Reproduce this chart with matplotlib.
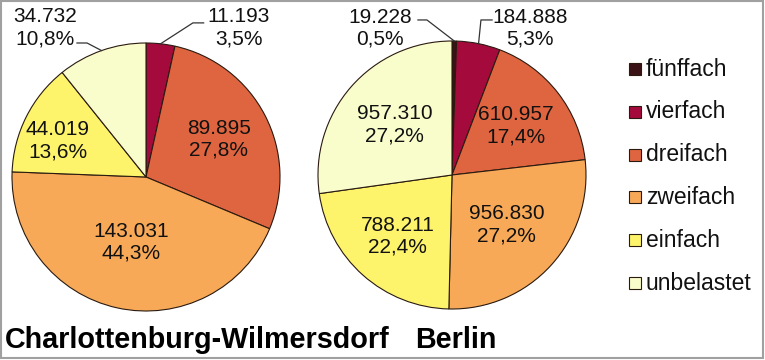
import matplotlib.pyplot as plt
from matplotlib.patches import Rectangle
import numpy as np

plt.rcParams['font.family'] = ['Liberation Sans', 'DejaVu Sans']

# data
categories = ['fünffach', 'vierfach', 'dreifach', 'zweifach', 'einfach', 'unbelastet']
colors = ['#3b1316', '#a50a3c', '#de6540', '#f8a958', '#fdf46c', '#f9fdcc']
cw_values = [0, 11193, 89895, 143031, 44019, 34732]
berlin_values = [19228, 184888, 610957, 956830, 788211, 957310]
titles = ['Charlottenburg-Wilmersdorf', 'Berlin']

W, H = 765, 360
R = 134.0
edge = '#2a1a10'


def de_num(v):
    return f'{v:,.0f}'.replace(',', '.')


def de_pct(p):
    return f'{p:.1f}'.replace('.', ',') + '%'


fig = plt.figure(figsize=(W / 100, H / 100), dpi=100)

# overlay in pixel coordinates for frame, legend and titles
ov = fig.add_axes([0, 0, 1, 1])
ov.set_xlim(0, W)
ov.set_ylim(H, 0)
ov.axis('off')
ov.add_patch(Rectangle((0.8, 0.8), 762.5, 357.5, fill=False, ec='#a0a0a0', lw=1.5))


def draw_pie(cx, cy, values, inside, outside):
    ax = fig.add_axes([(cx - R) / W, (H - cy - R) / H, 2 * R / W, 2 * R / H])
    keep = [i for i, v in enumerate(values) if v > 0]
    vals = [values[i] for i in keep]
    cols = [colors[i] for i in keep]
    wedges, _ = ax.pie(vals, colors=cols, startangle=90, counterclock=False,
                       radius=1.0, wedgeprops=dict(edgecolor=edge, linewidth=0.8))
    ax.set_xlim(-1, 1)
    ax.set_ylim(-1, 1)
    ax.set_aspect('equal')
    ax.axis('off')
    total = float(sum(vals))
    for w, i in zip(wedges, keep):
        v = values[i]
        txt = de_num(v) + '\n' + de_pct(100 * v / total)
        mid = np.deg2rad((w.theta1 + w.theta2) / 2)
        ex, ey = np.cos(mid), np.sin(mid)
        if i in inside:
            pos = inside[i]
            if isinstance(pos, tuple):
                tx, ty = pos
            else:
                tx, ty = pos * ex, pos * ey
            ax.text(tx, ty, txt, ha='center', va='center', fontsize=15,
                    linespacing=1.2, color='#111111')
        else:
            tx, ty, path = outside[i]
            ax.text(tx, ty, txt, ha='center', va='center', fontsize=15,
                    linespacing=1.2, color='#111111', clip_on=False)
            xs = [p[0] for p in path] + [ex]
            ys = [p[1] for p in path] + [ey]
            ax.plot(xs, ys, color='#333333', lw=0.9, clip_on=False)


draw_pie(146, 177, cw_values,
         inside={2: 0.61, 3: 0.5, 4: (-0.657, 0.269)},
         outside={1: (0.694, 1.112, [(0.43, 1.15), (0.35, 1.15)]),
                  5: (-0.754, 1.112, [(-0.515, 1.0), (-0.44, 1.0)])})
draw_pie(452, 175, berlin_values,
         inside={2: 0.6, 3: 0.55, 4: 0.61, 5: 0.57},
         outside={0: (-0.537, 1.097, [(-0.254, 1.157), (-0.187, 1.157)]),
                  1: (0.582, 1.097, [(0.299, 1.157), (0.216, 1.157)])})

# legend
for k, (cat, col) in enumerate(zip(categories, colors)):
    y = 69 + k * 42.8
    ov.add_patch(Rectangle((629, y - 6), 12, 12, fc=col, ec=edge, lw=0.8))
    ov.text(646, y, cat, ha='left', va='center', fontsize=16.5, color='#111111')

# titles
ov.text(5, 348, titles[0], ha='left', va='baseline', fontsize=20.7, fontweight='bold')
ov.text(415, 348, titles[1], ha='left', va='baseline', fontsize=20.7, fontweight='bold')

fig.savefig('out.png', dpi=100)
